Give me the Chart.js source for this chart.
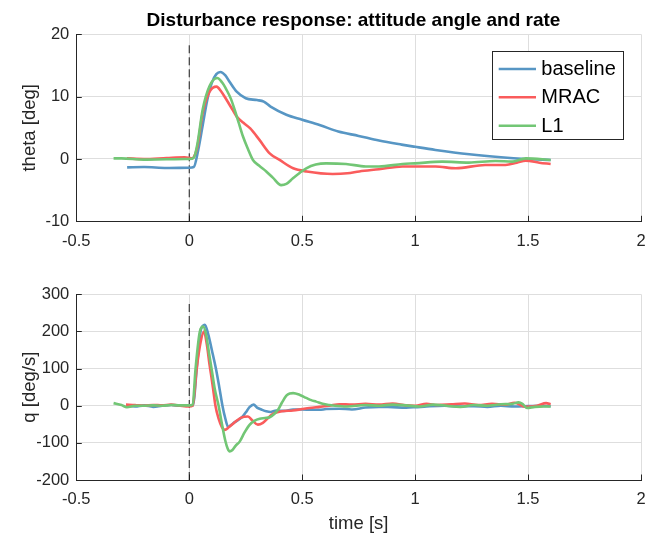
<!DOCTYPE html>
<html><head><meta charset="utf-8">
<script src="https://cdn.jsdelivr.net/npm/chart.js@4.4.1/dist/chart.umd.min.js"></script>
<style>
html,body{margin:0;padding:0;background:#fff;}
#wrap{position:relative;width:646px;height:534px;overflow:hidden;background:#fff;}
#wrap canvas{position:absolute;left:0;}
</style></head><body>
<div id="wrap">
<canvas id="c1" width="646" height="260" style="top:0px"></canvas>
<canvas id="c2" width="646" height="274" style="top:260px"></canvas>
</div>
<script>
// ---------- DATA ----------
const seriesNames = ['baseline', 'MRAC', 'L1'];
const xTicks = [-0.5, 0, 0.5, 1, 1.5, 2];
const thetaTicks = [-10, 0, 10, 20];
const qTicks = [-200, -100, 0, 100, 200, 300];
const titleText = 'Disturbance response: attitude angle and rate';
const thetaLabel = 'theta [deg]';
const qLabel = 'q [deg/s]';
const timeLabel = 'time [s]';

// disturbance marker (vertical dashed line at t = 0)
const markerT = [0, 0];
const markerTheta = [-10, 18.8];
const markerQ = [-200, 283];

// theta [deg]
const thetaBaselineT = [-0.275,-0.2,-0.1,0.0,0.02,0.04,0.06,0.08,0.1,0.12,0.138,0.16,0.18,0.21,0.25,0.3,0.33,0.36,0.43,0.5,0.58,0.66,0.75,0.84,0.94,1.0,1.09,1.24,1.38,1.49,1.6];
const thetaBaselineY = [-1.35,-1.3,-1.45,-1.4,-1.3,1.5,5.5,9.5,12.2,13.6,13.95,13.4,12.3,10.8,9.75,9.45,9.2,8.4,7.1,6.3,5.4,4.4,3.7,2.95,2.3,1.95,1.45,0.75,0.27,0.0,-0.16];

const thetaMracT = [-0.276,-0.2,-0.1,-0.02,0.01,0.02,0.035,0.06,0.09,0.121,0.14,0.165,0.19,0.21,0.24,0.27,0.31,0.356,0.4,0.46,0.52,0.635,0.7,0.753,0.84,0.944,1.09,1.18,1.31,1.4,1.45,1.49,1.55,1.6];
const thetaMracY = [0.1,0.0,0.15,0.25,0.1,0.3,1.8,7.5,10.8,11.6,10.9,9.5,8.0,6.8,5.8,4.9,3.1,0.9,-0.16,-1.5,-2.0,-2.4,-2.3,-2.0,-1.65,-1.2,-1.2,-1.5,-0.96,-0.96,-0.6,-0.27,-0.6,-0.8];

const thetaL1T = [-0.335,-0.3,-0.2,-0.1,0.0,0.02,0.035,0.06,0.09,0.124,0.145,0.165,0.185,0.201,0.22,0.238,0.26,0.282,0.31,0.341,0.37,0.407,0.43,0.459,0.49,0.518,0.56,0.606,0.694,0.782,0.84,0.944,1.0,1.12,1.238,1.355,1.43,1.49,1.6];
const thetaL1Y = [0.1,0.1,-0.1,-0.05,0.0,0.2,2.2,8.0,11.7,13.0,12.3,11.1,9.6,7.9,5.7,3.6,1.6,-0.16,-1.1,-2.0,-3.0,-4.2,-4.0,-3.1,-2.2,-1.5,-0.9,-0.7,-0.8,-1.2,-1.2,-0.8,-0.7,-0.43,-0.58,-0.32,-0.43,0.1,-0.16];

// q [deg/s]
const qBaselineT = [-0.276,-0.24,-0.2,-0.16,-0.12,-0.08,-0.04,0.0,0.015,0.022,0.033,0.05,0.06,0.069,0.085,0.1,0.118,0.133,0.147,0.16,0.172,0.185,0.2,0.22,0.238,0.255,0.268,0.285,0.3,0.319,0.341,0.36,0.385,0.42,0.46,0.5,0.54,0.576,0.606,0.665,0.72,0.78,0.84,0.9,0.96,1.0,1.05,1.13,1.2,1.26,1.32,1.38,1.44,1.5,1.55,1.6];
const qBaselineY = [0,-2,1,-3,0,2,0,1,0,20,100,200,215,218,190,150,100,50,0,-35,-57,-52,-45,-37,-28,-14,-3,3,-5,-10,-15,-17,-13,-14,-10,-10,-11,-11,-9,-8,-10,-5,-3,-4,-5,-4,-2,0,-2,-1,-3,0,-2,-1,0,-1];

const qMracT = [-0.28,-0.24,-0.2,-0.16,-0.12,-0.08,-0.04,0.0,0.015,0.033,0.05,0.065,0.078,0.09,0.1,0.108,0.116,0.13,0.145,0.157,0.175,0.2,0.23,0.26,0.28,0.304,0.326,0.37,0.41,0.459,0.5,0.532,0.576,0.62,0.665,0.72,0.78,0.84,0.9,0.96,1.0,1.05,1.1,1.16,1.22,1.28,1.34,1.4,1.44,1.49,1.54,1.58,1.6];
const qMracY = [3,2,0,2,1,3,0,-2,0,100,170,200,165,110,70,35,0,-35,-58,-65,-58,-45,-32,-29,-40,-51,-46,-22,-15,-13,-9,-6,-3,0,4,3,5,3,6,1,0,5,2,4,6,2,5,3,8,-3,0,7,4];

const qL1T = [-0.335,-0.3,-0.276,-0.24,-0.2,-0.16,-0.12,-0.08,-0.04,0.0,0.015,0.028,0.047,0.062,0.075,0.088,0.1,0.113,0.13,0.145,0.16,0.17,0.179,0.19,0.205,0.224,0.245,0.268,0.29,0.312,0.335,0.356,0.375,0.393,0.41,0.43,0.445,0.46,0.49,0.518,0.54,0.562,0.59,0.62,0.7,0.78,0.84,0.9,0.96,1.02,1.08,1.14,1.2,1.26,1.32,1.38,1.43,1.458,1.475,1.495,1.53,1.57,1.6];
const qL1Y = [7,2,-4,0,0,1,0,2,1,1,3,100,200,213,190,140,95,45,0,-50,-95,-115,-123,-120,-108,-96,-72,-51,-40,-35,-33,-31,-23,-11,8,27,33,34,29,21,15,11,5,2,-2,2,0,3,1,-2,3,0,-3,2,0,4,5,9,5,-6,-3,-2,-2];

// ---------- STYLE ----------
const FONT = '"Liberation Sans", Arial, Helvetica, sans-serif';
const AX = '#262626';
const GRID = '#dedede';
const seriesColors = ['#5796c4', '#fa5c5c', '#72c675'];

function pts(t, y) { return t.map((v, i) => ({ x: v, y: y[i] })); }

function seriesSets(list) {
  return list.map((s, i) => ({
    label: seriesNames[i],
    data: pts(s[0], s[1]),
    borderColor: seriesColors[i],
    backgroundColor: seriesColors[i],
    borderWidth: 2.6,
    pointRadius: 0,
    fill: false,
    cubicInterpolationMode: 'monotone',
    order: 2 - i
  }));
}

function markerSet(yv) {
  return {
    label: '_marker',
    data: pts(markerT, yv),
    borderColor: '#1a1a1a',
    borderWidth: 1,
    borderDash: [8, 4],
    pointRadius: 0,
    fill: false,
    order: 5
  };
}

const inwardTicks = {
  id: 'inwardTicks',
  beforeDatasetsDraw(chart) {
    const { ctx, chartArea: a, scales } = chart;
    ctx.save();
    ctx.strokeStyle = AX;
    ctx.lineWidth = 1;
    ctx.beginPath();
    scales.x.ticks.forEach(t => {
      const px = Math.round(scales.x.getPixelForValue(t.value)) + 0.5;
      ctx.moveTo(px, a.bottom);
      ctx.lineTo(px, a.bottom - 5.5);
    });
    scales.y.ticks.forEach(t => {
      const py = Math.round(scales.y.getPixelForValue(t.value)) + 0.5;
      ctx.moveTo(a.left, py);
      ctx.lineTo(a.left + 5.5, py);
    });
    ctx.stroke();
    ctx.restore();
  }
};

const titlePlugin = {
  id: 'matTitle',
  afterDraw(chart, args, opts) {
    if (!opts || !opts.text) return;
    const { ctx } = chart;
    ctx.save();
    ctx.font = 'bold 19px ' + FONT;
    ctx.fillStyle = '#000';
    ctx.textAlign = 'center';
    ctx.textBaseline = 'alphabetic';
    ctx.fillText(opts.text, 353.5, 26);
    ctx.restore();
  }
};

const boxLegend = {
  id: 'boxLegend',
  afterDraw(chart, args, opts) {
    if (!opts || !opts.show) return;
    const { ctx } = chart;
    const x0 = 492.5, y0 = 51.5, w = 131, h = 88;
    ctx.save();
    ctx.fillStyle = '#fff';
    ctx.fillRect(x0, y0, w, h);
    ctx.strokeStyle = AX;
    ctx.lineWidth = 1;
    ctx.strokeRect(x0, y0, w, h);
    const rows = [69, 97.3, 125.7];
    chart.data.datasets.filter(d => seriesNames.includes(d.label)).forEach((d, i) => {
      const y = rows[i];
      ctx.strokeStyle = d.borderColor;
      ctx.lineWidth = 2.6;
      ctx.beginPath();
      ctx.moveTo(498.7, y);
      ctx.lineTo(536, y);
      ctx.stroke();
      ctx.fillStyle = '#000';
      ctx.font = '20px ' + FONT;
      ctx.textAlign = 'left';
      ctx.textBaseline = 'middle';
      ctx.fillText(d.label, 541.3, y + 0.5);
    });
    ctx.restore();
  }
};

function makeOptions(yTicks, yTitle, xTitle, xHeight, extra) {
  return {
    responsive: false,
    animation: false,
    events: [],
    layout: { padding: { left: 0, right: 5, top: 34.3, bottom: 0 } },
    plugins: Object.assign({ legend: { display: false }, tooltip: { enabled: false }, title: { display: false } }, extra),
    scales: {
      x: {
        type: 'linear',
        min: xTicks[0], max: xTicks[xTicks.length - 1],
        afterBuildTicks: s => { s.ticks = xTicks.map(v => ({ value: v })); },
        afterFit: s => { s.height = xHeight; },
        ticks: {
          autoSkip: false, maxRotation: 0, padding: 0, color: AX,
          font: { family: FONT, size: 16.5, lineHeight: 2.4 },
          callback: v => String(v)
        },
        grid: { color: GRID, lineWidth: 1, drawTicks: false },
        border: { display: true, color: AX, width: 1 },
        title: xTitle ? {
          display: true, text: xTitle, color: AX,
          font: { family: FONT, size: 18.5, lineHeight: 1 },
          padding: { top: 0, bottom: 0.5 }
        } : { display: false }
      },
      y: {
        type: 'linear',
        min: yTicks[0], max: yTicks[yTicks.length - 1],
        afterBuildTicks: s => { s.ticks = yTicks.map(v => ({ value: v })); },
        afterFit: s => { s.width = 76.3; },
        ticks: {
          padding: 7, color: AX,
          font: { family: FONT, size: 16.5 },
          callback: v => String(v)
        },
        grid: { color: GRID, lineWidth: 1, drawTicks: false },
        border: { display: true, color: AX, width: 1 },
        title: {
          display: true, text: yTitle, color: AX,
          font: { family: FONT, size: 18.5, lineHeight: 1 },
          padding: { top: 21, bottom: 0 }
        }
      }
    }
  };
}

new Chart(document.getElementById('c1'), {
  type: 'line',
  data: {
    datasets: seriesSets([
      [thetaBaselineT, thetaBaselineY],
      [thetaMracT, thetaMracY],
      [thetaL1T, thetaL1Y]
    ]).concat([markerSet(markerTheta)])
  },
  options: makeOptions(thetaTicks, thetaLabel, null, 38.7, {
    matTitle: { text: titleText },
    boxLegend: { show: true }
  }),
  plugins: [inwardTicks, titlePlugin, boxLegend]
});

new Chart(document.getElementById('c2'), {
  type: 'line',
  data: {
    datasets: seriesSets([
      [qBaselineT, qBaselineY],
      [qMracT, qMracY],
      [qL1T, qL1Y]
    ]).concat([markerSet(markerQ)])
  },
  options: makeOptions(qTicks, qLabel, timeLabel, 54, {
    matTitle: { text: '' },
    boxLegend: { show: false }
  }),
  plugins: [inwardTicks, titlePlugin, boxLegend]
});
</script>
</body></html>
